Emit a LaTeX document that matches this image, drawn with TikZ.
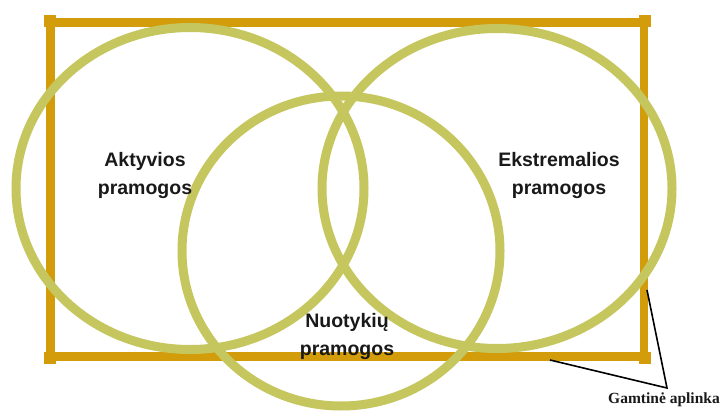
\documentclass[tikz,border=0pt]{standalone}
\usepackage{fontspec}
\setmainfont{Liberation Sans}
\newfontfamily\serifbold{Liberation Serif}
\definecolor{frameGold}{RGB}{210,156,10}
\definecolor{ringOlive}{RGB}{198,198,94}
\definecolor{txtDark}{RGB}{25,25,25}
\tikzset{
  framestroke/.style={draw=frameGold, line width=8.5pt},
  cornerbox/.style={fill=frameGold, draw=none, minimum size=12pt, inner sep=0pt, rectangle},
  ring/.style={draw=ringOlive, line width=9pt},
  setlabel/.style={align=center, text=txtDark, font=\fontsize{19.5}{28}\selectfont\bfseries, inner sep=0pt},
  envlabel/.style={text=txtDark, font=\serifbold\fontsize{15.5}{18}\selectfont\bfseries, inner sep=0pt, anchor=base},
  pointer/.style={draw=black, line width=1.6pt}
}
\begin{document}
\begin{tikzpicture}[x=1pt,y=-1pt]
\useasboundingbox (0,0) rectangle (720,415);
\fill[white] (0,0) rectangle (720,415);
% frame
\coordinate (tl) at (50.5,22.5);
\coordinate (tr) at (644,22.5);
\coordinate (br) at (644,356.5);
\coordinate (bl) at (50.5,356.5);
\draw[framestroke] (tl) -- (tr) -- (br) -- (bl) -- cycle;
\node[cornerbox] (ctl) at (49.5,21) {};
\node[cornerbox] (ctr) at (645,21) {};
\node[cornerbox] (cbr) at (645,358) {};
\node[cornerbox] (cbl) at (49.5,358) {};
% rings
\draw[ring] (190,188.5) ellipse [x radius=174pt, y radius=161pt];
\draw[ring] (497,188.5) ellipse [x radius=175pt, y radius=160pt];
\draw[ring] (341,251) ellipse [x radius=159pt, y radius=155pt];
% labels
\node[setlabel] (akt) at (145,175) {Aktyvios\\pramogos};
\node[setlabel] (eks) at (559,175) {Ekstremalios\\pramogos};
\node[setlabel] (nuo) at (347,336) {Nuotykių\\pramogos};
% environment label
\node[envlabel] (gam) at (664,403) {Gamtinė aplinka};
\coordinate (apex) at (667,388);
\coordinate (pa) at (647,290);
\coordinate (pb) at (550,360);
\draw[pointer] (pa) -- (apex) -- (pb);
\end{tikzpicture}
\end{document}
